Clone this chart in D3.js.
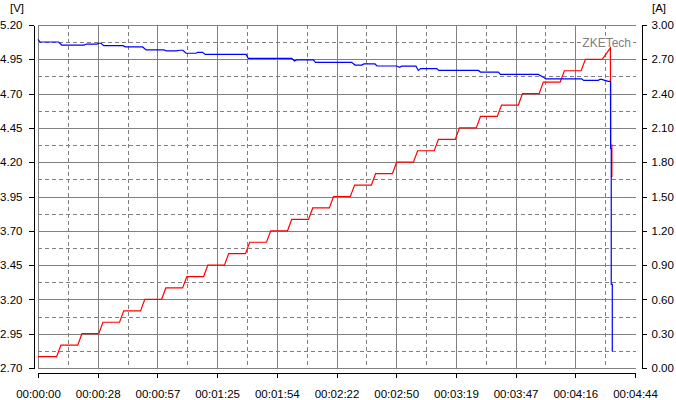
<!DOCTYPE html>
<html>
<head>
<meta charset="utf-8">
<script src="https://cdn.jsdelivr.net/npm/d3@7"></script>
<style>
  html, body { margin: 0; padding: 0; background: #fff; }
  svg { display: block; font-family: "Liberation Sans", Arial, sans-serif; }
</style>
</head>
<body>
<svg id="chart" width="676" height="400"></svg>
<script>
// ---- data ----
const timeTicks = [0, 28.4, 56.8, 85.2, 113.6, 142, 170.4, 198.8, 227.2, 255.6, 284];
const timeTickLabels = ["00:00:00","00:00:28","00:00:57","00:01:25","00:01:54","00:02:22","00:02:50","00:03:19","00:03:47","00:04:16","00:04:44"];
const voltTicks = [2.70, 2.95, 3.20, 3.45, 3.70, 3.95, 4.20, 4.45, 4.70, 4.95, 5.20];
const ampTicks = [0.00, 0.30, 0.60, 0.90, 1.20, 1.50, 1.80, 2.10, 2.40, 2.70, 3.00];

const timeI = [0, 8.9, 10.9, 18.9, 20.9, 28.9, 30.9, 38.8, 40.8, 48.8, 50.8, 58.8, 60.8, 68.8, 70.8,
  78.8, 80.8, 88.7, 90.7, 98.7, 100.7, 108.7, 110.7, 118.7, 120.7, 128.7, 130.7, 138.6, 140.6,
  148.6, 150.6, 158.6, 160.6, 168.6, 170.6, 178.6, 180.6, 188.5, 190.5, 198.5, 200.5, 208.5, 210.5,
  218.5, 220.5, 228.5, 230.5, 238.4, 240.4, 248.4, 250.4, 258.4, 260.4, 268.4, 272.3, 272.4, 273.0, 273.0];
const current = [0.10, 0.10, 0.20, 0.20, 0.30, 0.30, 0.40, 0.40, 0.50, 0.50, 0.60, 0.60, 0.70, 0.70, 0.80,
  0.80, 0.90, 0.90, 1.00, 1.00, 1.10, 1.10, 1.20, 1.20, 1.30, 1.30, 1.40, 1.40, 1.50,
  1.50, 1.60, 1.60, 1.70, 1.70, 1.80, 1.80, 1.90, 1.90, 2.00, 2.00, 2.10, 2.10, 2.20,
  2.20, 2.30, 2.30, 2.40, 2.40, 2.50, 2.50, 2.60, 2.60, 2.70, 2.70, 2.80, 1.95, 1.95, 1.67];

const timeV = [0, 1, 9.8, 11.3, 22, 23, 28, 29, 30, 31.3, 40.6, 41.5, 49.8, 51.4, 60, 61, 65.6, 67.5, 69, 70.4,
  75.2, 76, 78.3, 79.5, 99, 100, 120.7, 122, 123, 131, 132, 149.2, 150.8, 154, 155, 160.3, 161.3, 170.6, 172, 173,
  179.8, 180.9, 182, 189.7, 190.7, 209.5, 210.5, 219, 220, 238, 240.4, 241.5, 258.6, 259.6, 266.5, 267.2, 268.1,
  271.3, 272.4, 272.4, 272.7, 272.7, 273.2, 273.2];
const voltage = [5.095, 5.076, 5.076, 5.054, 5.054, 5.061, 5.061, 5.067, 5.067, 5.049, 5.049, 5.040, 5.040, 5.018,
  5.018, 5.011, 5.011, 5.016, 5.016, 4.994, 4.994, 5.001, 5.001, 4.986, 4.986, 4.957, 4.957, 4.938, 4.946, 4.946,
  4.928, 4.928, 4.908, 4.908, 4.916, 4.916, 4.901, 4.901, 4.892, 4.900, 4.900, 4.869, 4.882, 4.882, 4.869, 4.869,
  4.857, 4.857, 4.840, 4.840, 4.820, 4.808, 4.808, 4.796, 4.796, 4.803, 4.803, 4.789, 4.789, 4.30, 4.30, 3.31,
  3.31, 2.82];

const watermark = "ZKETech";

// ---- layout ----
const svg = d3.select("#chart");
const L = 38, R = 635, T = 25, B = 368;
const x = d3.scaleLinear().domain([0, 284]).range([L, R]);
const yV = d3.scaleLinear().domain([2.70, 5.20]).range([B, T]);
const yA = d3.scaleLinear().domain([0, 3.00]).range([B, T]);

svg.append("rect").attr("width", 676).attr("height", 400).attr("fill", "#fff");

const grid = svg.append("g").attr("shape-rendering", "crispEdges");
const mids = arr => arr.slice(1).map((v, i) => (v + arr[i]) / 2);

// horizontal gridlines
grid.selectAll(".hs").data(voltTicks).enter().append("line")
  .attr("x1", L).attr("x2", R + 1)
  .attr("y1", d => Math.round(yV(d)) + 0.5).attr("y2", d => Math.round(yV(d)) + 0.5)
  .attr("stroke", "#808080");
grid.selectAll(".hd").data(mids(voltTicks)).enter().append("line")
  .attr("x1", L).attr("x2", R + 1)
  .attr("y1", d => Math.round(yV(d)) + 0.5).attr("y2", d => Math.round(yV(d)) + 0.5)
  .attr("stroke", "#808080").attr("stroke-dasharray", "4,3");
// vertical gridlines
grid.selectAll(".vs").data(timeTicks.slice(0, -1)).enter().append("line")
  .attr("y1", T).attr("y2", B + 1)
  .attr("x1", d => Math.round(x(d)) + 0.5).attr("x2", d => Math.round(x(d)) + 0.5)
  .attr("stroke", "#808080");
grid.selectAll(".vd").data(mids(timeTicks)).enter().append("line")
  .attr("y1", T).attr("y2", B + 1)
  .attr("x1", d => Math.round(x(d)) + 0.5).attr("x2", d => Math.round(x(d)) + 0.5)
  .attr("stroke", "#808080").attr("stroke-dasharray", "4,3");

// watermark
const wm = svg.append("g");
const wmText = wm.append("text")
  .attr("x", 631).attr("y", 42.5).attr("dy", "0.35em")
  .attr("text-anchor", "end").attr("font-size", 12).attr("fill", "#808080")
  .text(watermark);
const bb = wmText.node().getBBox();
wm.insert("rect", "text").attr("x", bb.x - 1).attr("y", bb.y).attr("width", bb.width + 2).attr("height", bb.height).attr("fill", "#fff");

// axes
const fontSize = 11.5;
const axL = d3.axisLeft(yV).tickValues(voltTicks).tickFormat(d3.format(".2f")).tickSize(5).tickSizeOuter(0).tickPadding(6);
const axR = d3.axisRight(yA).tickValues(ampTicks).tickFormat(d3.format(".2f")).tickSize(5).tickSizeOuter(0).tickPadding(5);
const axB = d3.axisBottom(x).tickValues(timeTicks).tickFormat((d, i) => timeTickLabels[i]).tickSize(5).tickSizeOuter(0).tickPadding(12);

function styleAxis(g) {
  g.attr("font-family", null).attr("font-size", fontSize);
  g.selectAll("path, line").attr("stroke", "#000").attr("shape-rendering", "crispEdges");
  g.selectAll("text").attr("fill", "#000");
}
svg.append("g").attr("transform", "translate(33.5,0)").call(axL).call(styleAxis);
svg.append("g").attr("transform", "translate(641.5,0)").call(axR).call(styleAxis);
svg.append("g").attr("transform", "translate(0,372.5)").call(axB).call(styleAxis);

svg.append("text").attr("x", 10).attr("y", 8).attr("dy", "0.35em").attr("font-size", fontSize).text("[V]");
svg.append("text").attr("x", 652).attr("y", 8).attr("dy", "0.35em").attr("font-size", fontSize).text("[A]");

// series
const curData = timeI.map((t, i) => ({ t, v: current[i] }));
const volData = timeV.map((t, i) => ({ t, v: voltage[i] }));

svg.append("path").datum(curData)
  .attr("d", d3.line().x(d => x(d.t)).y(d => yA(d.v)))
  .attr("fill", "none").attr("stroke", "#ff0000").attr("stroke-width", 1.2);
svg.append("path").datum(volData)
  .attr("d", d3.line().x(d => x(d.t)).y(d => yV(d.v)))
  .attr("fill", "none").attr("stroke", "#0000ff").attr("stroke-width", 1.2);
</script>
</body>
</html>
